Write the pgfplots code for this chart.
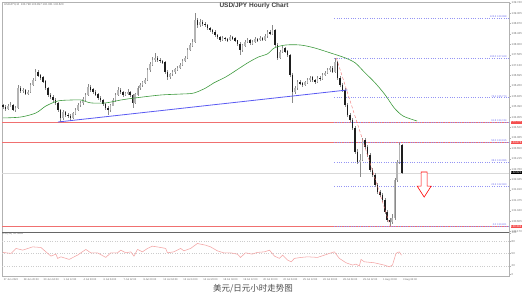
\documentclass[border=0pt]{standalone}
\usepackage{pgfplots}
\pgfplotsset{compat=1.18}
\usepackage{pgfplotstable}
\usepackage{fontspec}
\setmainfont{Liberation Sans}
\newfontfamily\cjk{Noto Sans CJK SC}
\definecolor{mared}{HTML}{F07070}
\definecolor{fibblue}{HTML}{7070F0}
\definecolor{magreen}{HTML}{3E9A3E}
\definecolor{tlblue}{HTML}{5A5AF2}
\definecolor{upc}{HTML}{B4B4B4}
\definecolor{dnc}{HTML}{1E1E1E}
\definecolor{wick}{HTML}{8A8A8A}
\definecolor{rsic}{HTML}{F3A3A3}
\definecolor{txt}{HTML}{6A6A6A}

\pgfplotstableread{
x o h l c
0 135.45 135.52 135.30 135.38
1 135.38 135.45 135.22 135.30
2 135.30 135.50 135.25 135.42
3 135.42 135.58 135.36 135.46
4 135.46 135.52 135.20 135.28
5 135.28 135.42 135.18 135.34
6 135.34 136.28 135.30 136.17
7 136.17 136.25 135.98 136.05
8 136.05 136.18 135.96 136.09
9 136.09 136.14 135.88 135.95
10 135.95 136.10 135.86 136.00
11 136.00 136.38 135.95 136.30
12 136.30 136.60 136.24 136.51
13 136.51 136.97 136.45 136.85
14 136.85 136.92 136.62 136.70
15 136.70 136.78 136.52 136.60
16 136.60 136.66 136.38 136.45
17 136.45 136.50 136.10 136.17
18 136.17 136.22 135.80 135.88
19 135.88 135.96 135.72 135.80
20 135.80 135.86 135.60 135.67
21 135.67 135.74 135.48 135.55
22 135.55 135.60 135.18 135.25
23 135.25 135.30 134.75 134.92
24 134.92 135.25 134.85 135.17
25 135.17 135.22 134.96 135.05
26 135.05 135.14 134.90 135.00
27 135.00 135.08 134.78 134.92
28 134.92 135.18 134.86 135.10
29 135.10 135.32 135.04 135.25
30 135.25 135.54 135.20 135.46
31 135.46 135.62 135.38 135.55
32 135.55 135.78 135.48 135.70
33 135.70 135.96 135.64 135.88
34 135.88 136.34 135.82 136.22
35 136.22 136.30 136.02 136.10
36 136.10 136.16 135.92 136.00
37 136.00 136.08 135.82 135.90
38 135.90 135.96 135.68 135.75
39 135.75 135.82 135.58 135.67
40 135.67 135.72 135.42 135.50
41 135.50 135.56 135.26 135.34
42 135.34 135.40 135.04 135.25
43 135.25 135.52 135.18 135.45
44 135.45 135.75 135.40 135.67
45 135.67 135.95 135.60 135.88
46 135.88 136.20 135.82 136.09
47 136.09 136.16 135.92 136.00
48 136.00 136.06 135.80 135.88
49 135.88 136.02 135.82 135.95
50 135.95 136.12 135.88 136.00
51 136.00 136.05 135.80 135.88
52 135.88 135.94 135.34 135.55
53 135.55 135.98 135.50 135.90
54 135.90 136.25 135.84 136.17
55 136.17 136.38 136.10 136.30
56 136.30 136.48 136.22 136.40
57 136.40 136.60 136.34 136.51
58 136.51 137.02 136.45 136.93
59 136.93 137.24 136.86 137.15
60 137.15 137.45 137.08 137.35
61 137.35 137.64 137.28 137.43
62 137.43 137.50 137.26 137.35
63 137.35 137.42 137.22 137.30
64 137.30 137.36 137.18 137.26
65 137.26 137.30 136.78 136.85
66 136.85 136.92 136.52 136.63
67 136.63 136.82 136.56 136.75
68 136.75 136.94 136.68 136.85
69 136.85 137.02 136.78 136.95
70 136.95 137.10 136.88 137.01
71 137.01 137.22 136.95 137.14
72 137.14 137.38 137.08 137.30
73 137.30 137.52 137.24 137.43
74 137.43 137.86 137.38 137.76
75 137.76 138.04 137.70 137.95
76 137.95 138.22 137.88 138.10
77 138.10 139.31 138.04 139.02
78 139.02 139.12 138.70 138.81
79 138.81 139.04 138.74 138.93
80 138.93 139.00 138.76 138.85
81 138.85 138.92 138.72 138.81
82 138.81 138.86 138.60 138.68
83 138.68 138.74 138.52 138.60
84 138.60 138.66 138.44 138.52
85 138.52 138.58 138.30 138.39
86 138.39 138.45 138.22 138.30
87 138.30 138.36 138.08 138.18
88 138.18 138.36 138.12 138.27
89 138.27 138.32 138.14 138.22
90 138.22 138.28 138.10 138.18
91 138.18 138.38 138.12 138.30
92 138.30 138.36 138.18 138.27
93 138.27 138.32 138.08 138.15
94 138.15 138.20 137.94 138.02
95 138.02 138.08 137.55 137.76
96 137.76 138.02 137.70 137.95
97 137.95 138.18 137.88 138.10
98 138.10 138.26 138.04 138.18
99 138.18 138.22 137.98 138.05
100 138.05 138.18 137.98 138.10
101 138.10 138.30 138.04 138.22
102 138.22 138.28 138.10 138.18
103 138.18 138.35 138.12 138.27
104 138.27 138.32 138.12 138.20
105 138.20 138.44 138.14 138.35
106 138.35 138.62 138.28 138.52
107 138.52 138.58 138.38 138.45
108 138.45 138.81 138.40 138.60
109 138.60 138.66 137.90 137.97
110 137.97 138.04 137.36 137.43
111 137.43 137.76 137.38 137.68
112 137.68 137.94 137.62 137.85
113 137.85 137.90 137.62 137.70
114 137.70 137.76 137.48 137.55
115 137.55 137.60 136.64 136.72
116 136.72 136.80 135.55 136.00
117 136.00 136.26 135.92 136.17
118 136.17 136.52 136.10 136.43
119 136.43 136.50 136.28 136.35
120 136.35 136.42 136.20 136.30
121 136.30 136.48 136.24 136.40
122 136.40 136.60 136.34 136.51
123 136.51 136.68 136.44 136.60
124 136.60 136.66 136.42 136.50
125 136.50 136.56 136.36 136.43
126 136.43 136.68 136.38 136.60
127 136.60 136.66 136.46 136.55
128 136.55 136.80 136.50 136.72
129 136.72 136.88 136.66 136.80
130 136.80 137.02 136.74 136.93
131 136.93 137.10 136.86 137.01
132 137.01 137.08 136.78 136.85
133 136.85 137.43 136.80 137.26
134 137.26 137.32 136.52 136.60
135 136.60 136.68 136.22 136.30
136 136.30 136.38 136.00 136.09
137 136.09 136.16 135.38 135.46
138 135.46 135.54 134.96 135.04
139 135.04 135.12 134.76 134.84
140 134.84 134.92 134.42 134.50
141 134.50 134.58 133.40 133.50
142 133.50 133.62 132.98 133.08
143 133.08 133.40 132.45 133.16
144 133.16 134.08 133.10 134.00
145 134.00 134.10 133.62 133.70
146 133.70 133.78 133.28 133.37
147 133.37 133.44 132.66 132.74
148 132.74 132.82 132.44 132.53
149 132.53 132.60 132.04 132.12
150 132.12 132.20 131.74 131.82
151 131.82 131.90 131.62 131.70
152 131.70 131.78 131.40 131.49
153 131.49 131.56 130.90 130.99
154 130.99 131.06 130.56 130.65
155 130.65 130.74 130.40 130.57
156 130.57 130.90 130.48 130.73
157 130.73 132.40 130.66 132.32
158 132.32 133.18 132.24 133.08
159 133.08 133.87 133.00 133.79
160 133.79 133.84 132.56 132.62
}\candles

\begin{document}
\begin{tikzpicture}[x=1pt,y=1pt]
\useasboundingbox (0,0) rectangle (529,296);
\begin{axis}[
  at={(2pt,64pt)}, anchor=south west, scale only axis,
  width=507pt, height=230pt,
  xmin=-0.4, xmax=202.8, ymin=130.15, ymax=139.77,
  clip mode=individual,
  axis line style={draw=gray!60, line width=0.4pt},
  xtick=\empty,
  ytick={130.170,130.605,131.040,131.475,131.910,132.345,132.780,133.215,133.650,134.085,134.520,134.955,135.390,135.825,136.260,136.695,137.130,137.565,138.000,138.435,138.870,139.305,139.740},
  ytick pos=right, yticklabel pos=right,
  tick align=outside, major tick length=1.5pt, tick style={gray!60, line width=0.3pt},
  yticklabel style={font=\fontsize{2.8}{3}\selectfont, text=txt, inner sep=1pt,
    /pgf/number format/.cd, fixed, fixed zerofill, precision=3, assume math mode=true, 1000 sep={}},
]
% reference horizontals
\addplot[gray!30, line width=0.6pt, forget plot] coordinates {(-0.4,132.62) (202.8,132.62)};
\addplot[mared, line width=0.7pt, forget plot] coordinates {(-0.4,134.75) (202.8,134.75)};
\addplot[mared, line width=0.7pt, forget plot] coordinates {(-0.4,133.88) (202.8,133.88)};
\addplot[mared, line width=0.7pt, forget plot] coordinates {(-0.4,130.39) (202.8,130.39)};
% fib levels
\foreach \L in {139.088,137.429,135.770,134.744,133.915,133.086,132.060,130.401}{
  \edef\temp{\noexpand\addplot[fibblue!75, dotted, line width=0.35pt, forget plot] coordinates {(132.8,\L) (202.8,\L)};}
  \temp
}
% wicks
\addplot[draw=none, mark=none, forget plot,
  error bars/.cd, y dir=both, y explicit, error mark=none,
  error bar style={draw=wick, solid, line width=0.45pt}]
  table[x=x, y expr={(\thisrow{h}+\thisrow{l})/2}, y error expr={(\thisrow{h}-\thisrow{l})/2}] {\candles};
% up bodies
\addplot[draw=none, mark=none, forget plot,
  error bars/.cd, y dir=both, y explicit, error mark=none,
  error bar style={draw=upc, solid, line width=1.5pt}]
  table[x=x, y expr={\thisrow{c}<\thisrow{o} ? nan : (\thisrow{o}+\thisrow{c})/2}, y error expr={abs(\thisrow{c}-\thisrow{o})/2+0.012}] {\candles};
% down bodies
\addplot[draw=none, mark=none, forget plot,
  error bars/.cd, y dir=both, y explicit, error mark=none,
  error bar style={draw=dnc, solid, line width=1.5pt}]
  table[x=x, y expr={\thisrow{c}<\thisrow{o} ? (\thisrow{o}+\thisrow{c})/2 : nan}, y error expr={abs(\thisrow{c}-\thisrow{o})/2+0.012}] {\candles};
% moving average
\addplot[magreen, line width=0.6pt, smooth, tension=0.5] coordinates {
(0,134.92) (7.2,134.96) (13.2,135.13) (17.2,135.42) (22,135.63) (27.2,135.67) (31.2,135.67)
(35.2,135.55) (41.2,135.55) (47.2,135.67) (53.2,135.76) (63.2,135.88) (71.2,135.92) (76.4,135.96)
(81.2,136.17) (84.4,136.38) (89.2,136.63) (92.4,136.84) (98,137.22) (102.4,137.47) (106,137.60)
(108.8,137.85) (113.2,137.97) (119.2,137.97) (124.8,137.85) (131.2,137.64) (137.2,137.43)
(141.2,137.22) (144.8,136.84) (149.2,136.38) (153.2,135.88) (156.8,135.34) (160.4,135.00) (166,134.79)};
% trendline
\addplot[tlblue, line width=0.8pt] coordinates {(22,134.75) (138,136.09)};
% fib swing line
\addplot[mared, densely dashed, line width=0.4pt] coordinates {(133.6,137.43) (155.2,130.40)};
% fib labels
\foreach \L/\T in {139.088/{123.6 139.088},137.429/{100.0 137.429},135.770/{76.4 135.770},134.744/{61.8 134.744},133.915/{50.0 133.915},133.086/{38.2 133.086},132.060/{23.6 132.060},130.401/{0.0 130.401}}{
  \edef\temp{\noexpand\node[anchor=south east, text=fibblue, inner sep=0.3pt, font=\noexpand\fontsize{2.6}{3}\noexpand\selectfont] at (axis cs:202,\L) {\T};}
  \temp
}
% price boxes
\node[fill=mared!70!red, text=white, anchor=west, inner sep=0.5pt, xshift=1.5pt, font=\fontsize{2.8}{3}\selectfont] at (axis cs:202.8,134.75) {134.750};
\node[fill=mared!70!red, text=white, anchor=west, inner sep=0.5pt, xshift=1.5pt, font=\fontsize{2.8}{3}\selectfont] at (axis cs:202.8,133.88) {133.878};
\node[fill=mared!70!red, text=white, anchor=west, inner sep=0.5pt, xshift=1.5pt, font=\fontsize{2.8}{3}\selectfont] at (axis cs:202.8,130.39) {130.394};
\node[fill=black, text=white, anchor=west, inner sep=0.5pt, xshift=1.5pt, font=\fontsize{2.8}{3}\selectfont] at (axis cs:202.8,132.62) {132.620};
% arrow
\draw[red, line width=0.6pt, fill=white, line join=miter]
  (axis cs:167.6,132.66) -- (axis cs:170,132.66) -- (axis cs:170,132.07) -- (axis cs:171.6,132.07)
  -- (axis cs:168.8,131.61) -- (axis cs:166,132.07) -- (axis cs:167.6,132.07) -- cycle;
\end{axis}

\begin{axis}[
  at={(2pt,20pt)}, anchor=south west, scale only axis,
  width=507pt, height=44pt,
  xmin=-0.4, xmax=202.8, ymin=-4, ymax=102,
  clip mode=individual,
  axis line style={draw=gray!60, line width=0.4pt},
  ytick={0,20,50,80,100}, ytick pos=right, yticklabel pos=right,
  xtick={0,8,...,160}, xtick pos=bottom,
  xticklabels={27 Jun 2022, 28 Jun 20:00, 30 Jun 04:00, 1 Jul 12:00, 4 Jul 20:00, 6 Jul 04:00, 7 Jul 12:00, 8 Jul 20:00, 12 Jul 04:00, 13 Jul 12:00, 14 Jul 20:00, 18 Jul 04:00, 19 Jul 12:00, 20 Jul 20:00, 22 Jul 04:00, 25 Jul 12:00, 26 Jul 20:00, 28 Jul 04:00, 29 Jul 12:00, 1 Aug 20:00, 3 Aug 04:00},
  tick align=outside, major tick length=1.5pt, tick style={gray!60, line width=0.3pt},
  yticklabel style={font=\fontsize{2.8}{3}\selectfont, text=txt, inner sep=1pt, /pgf/number format/assume math mode=true},
  xticklabel style={font=\fontsize{2.6}{3}\selectfont, text=txt, anchor=north west, inner sep=0.6pt},
]
\addplot[gray!40, dotted, line width=0.4pt, forget plot] coordinates {(-0.4,80) (202.8,80)};
\addplot[gray!40, dotted, line width=0.4pt, forget plot] coordinates {(-0.4,50) (202.8,50)};
\addplot[gray!40, dotted, line width=0.4pt, forget plot] coordinates {(-0.4,20) (202.8,20)};
\addplot[rsic, line width=0.55pt] coordinates {
(0,52.8) (3.2,50.4) (5.2,62.4) (7.9,58.3) (11.9,66.2) (15.2,64.7) (17.2,54.2) (19.2,43.9)
(21.2,48.7) (21.9,38.4) (23.2,42.2) (26.5,36) (29.9,46.3) (33.2,60) (35.2,51.8) (37.9,51.8)
(41.2,40.8) (43.2,51.8) (45.9,51.8) (47.2,58.3) (49.2,51.8) (51.2,54.2) (52.5,43.9) (53.9,60)
(55.9,54.2) (57.9,62.4) (59.9,67.9) (63.2,64.7) (65.2,62.4) (65.9,51.8) (68.5,54.2) (71.2,62.4)
(72.5,56.6) (75.2,62.4) (77.9,74.3) (81.2,70.3) (83.2,66.2) (85.9,56.6) (88.5,51.8) (91.2,51.8)
(93.9,48.7) (95.2,40.8) (97.2,51.8) (99.9,48.7) (101.9,52.8) (104.8,54.2) (106.8,58.3) (108.8,43.9)
(110.8,38.4) (112.1,46.3) (114.1,34.3) (115.5,30.2) (116.8,38.4) (119.5,40.8) (122.1,42.2)
(126.1,40.8) (128.8,46.3) (130.8,50.4) (132.8,54.2) (134.8,38.4) (137.5,27.8) (140.1,22.3)
(141.5,24.7) (142.8,19.9) (143.5,36) (144.8,30.2) (148.8,27.8) (152.8,22.3) (154.8,18.2)
(156.1,22.3) (157.5,50.4) (158.8,54.2) (159.7,46.3)};
\node[anchor=north west, text=txt, inner sep=0.5pt, font=\fontsize{2.8}{3}\selectfont] at (rel axis cs:0,1) {RSI(14) 45.4894};
\end{axis}
\draw[black!60, line width=0.8pt] (2,64) -- (509,64);
\node[anchor=west, text=txt, inner sep=0pt, font=\fontsize{2.8}{3}\selectfont] at (4,291.5) {USDJPY,H4 \ 133.798 133.897 132.331 132.620};
\node[text=black!75, font=\bfseries\fontsize{6.5}{7}\selectfont] at (254,290) {USD/JPY Hourly Chart};
\node[text=black!70, font=\cjk\fontsize{8.5}{9}\selectfont] at (253,7) {美元/日元小时走势图};
\end{tikzpicture}
\end{document}
